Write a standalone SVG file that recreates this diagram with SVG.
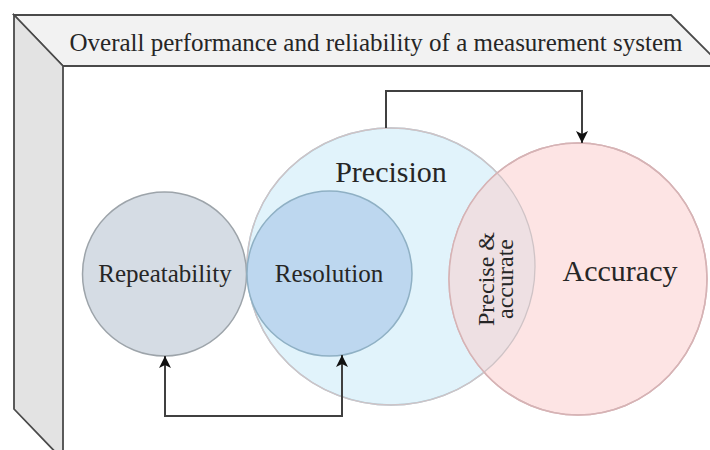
<svg xmlns="http://www.w3.org/2000/svg" width="710" height="450" viewBox="0 0 710 450">
<style>
.frame{stroke:#4a4a4a;stroke-width:1.8;stroke-linejoin:miter}
.lbl{font-family:'Liberation Serif','DejaVu Serif',serif;fill:#262626;text-anchor:middle}
.conn{fill:none;stroke:#404040;stroke-width:2}
</style>
<defs>
<marker id="arr" viewBox="0 0 12 12" refX="12" refY="6" markerWidth="12" markerHeight="12" markerUnits="userSpaceOnUse" orient="auto-start-reverse">
<path d="M0,0 L12,6 L0,12 L3,6 z" fill="#111"/>
</marker>
<clipPath id="precClip"><ellipse cx="391" cy="266.5" rx="144" ry="138.5"/></clipPath>
</defs>
<rect width="710" height="450" fill="#ffffff"/>
<g id="frame">
<polygon class="frame" points="14,15 671,15 722,66 63,66" fill="#f2f2f2"/>
<polygon class="frame" points="14,15 63,66 63,460 14,409" fill="#e3e3e3"/>
<text class="lbl" x="376" y="51" font-size="25" font-family="Liberation Serif, DejaVu Serif, serif">Overall performance and reliability of a measurement system</text>
</g>
<g id="precision">
<ellipse cx="391" cy="266.5" rx="144" ry="138.5" fill="#e1f3fb" stroke="#a9cdd8" stroke-width="1.5"/>
<text class="lbl" x="391" y="182" font-size="30" font-family="Liberation Serif, DejaVu Serif, serif">Precision</text>
</g>
<g id="accuracy">
<ellipse cx="578" cy="279" rx="129" ry="136" fill="#fde4e4" stroke="#d6b3b5" stroke-width="1.5"/>
<text class="lbl" x="620" y="281" font-size="30" font-family="Liberation Serif, DejaVu Serif, serif">Accuracy</text>
</g>
<g id="precise-accurate">
<ellipse cx="578" cy="279" rx="129" ry="136" fill="#eee0e3" clip-path="url(#precClip)"/>
<ellipse cx="391" cy="266.5" rx="144" ry="138.5" fill="none" stroke="#cfc3c6" stroke-width="1.3"/>
<ellipse cx="578" cy="279" rx="129" ry="136" fill="none" stroke="#d6b3b5" stroke-width="1.5"/>
<text class="lbl" font-size="24" font-family="Liberation Serif, DejaVu Serif, serif" transform="translate(494,279) rotate(-90)">Precise &amp;</text>
<text class="lbl" font-size="24" font-family="Liberation Serif, DejaVu Serif, serif" transform="translate(513,279) rotate(-90)">accurate</text>
</g>
<g id="repeatability">
<circle cx="164.5" cy="274" r="82" fill="#d5dce4" stroke="#9da4aa" stroke-width="1.5"/>
<text class="lbl" x="165" y="282" font-size="25" font-family="Liberation Serif, DejaVu Serif, serif">Repeatability</text>
</g>
<g id="resolution">
<circle cx="329.5" cy="273.5" r="82.5" fill="#bdd7ef" stroke="#8fb0c4" stroke-width="1.5"/>
<text class="lbl" x="329" y="282" font-size="25" font-family="Liberation Serif, DejaVu Serif, serif">Resolution</text>
</g>
<g id="connectors">
<path class="conn" d="M386,128 V91 H582 V143" marker-end="url(#arr)"/>
<path class="conn" d="M165,356 V416 H342 V355" marker-start="url(#arr)" marker-end="url(#arr)"/>
</g>
</svg>
